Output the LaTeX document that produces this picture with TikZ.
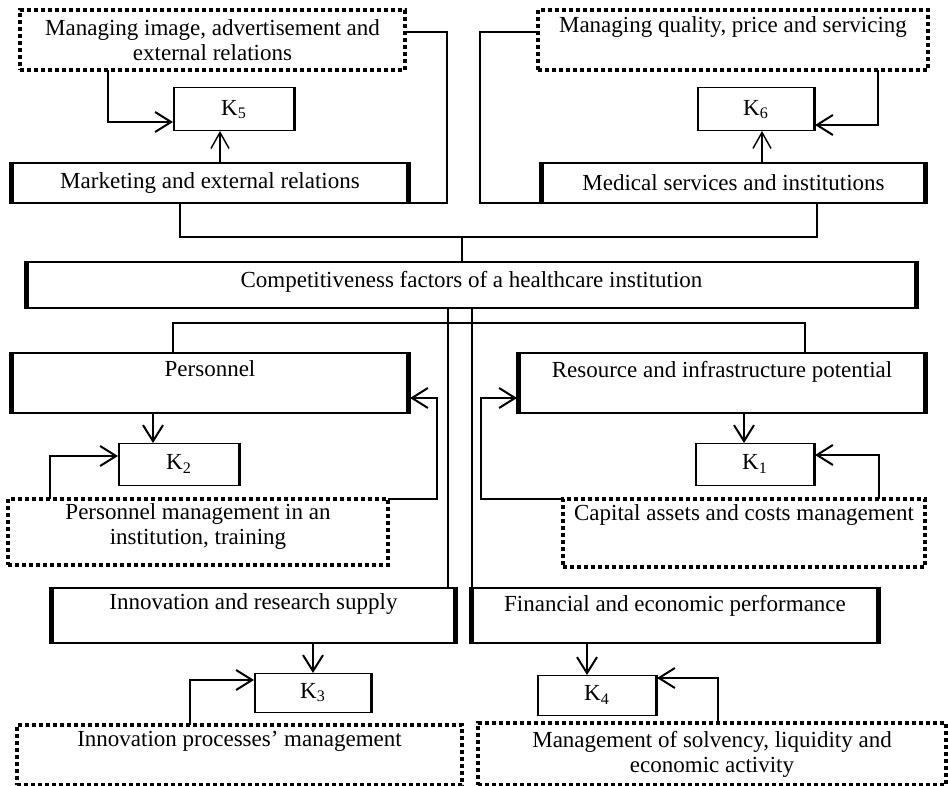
\documentclass[tikz,border=0pt]{standalone}
\usepackage{fontspec}
\setmainfont{Liberation Serif}
\usepackage{tikz}
\usetikzlibrary{arrows.meta}
\newcommand{\boxfont}{\fontsize{11.5}{12.5}\selectfont}
\tikzset{
  factor/.style={draw, line width=0.6pt, inner sep=0pt, outer sep=0pt, align=center, font=\boxfont,
    path picture={\draw[line width=4pt] (path picture bounding box.north west) -- (path picture bounding box.south west)
      (path picture bounding box.north east) -- (path picture bounding box.south east);}},
  kbox/.style={draw, line width=0.5pt, inner sep=0pt, outer sep=0pt, font=\boxfont,
    path picture={\draw[line width=2pt] (path picture bounding box.north west) -- (path picture bounding box.south west)
      (path picture bounding box.north east) -- (path picture bounding box.south east);}},
  mgmt/.style={draw, line width=1.75pt, dash pattern=on 2pt off 1.5pt, inner sep=0pt, outer sep=0pt, align=center, font=\boxfont},
  toptext/.style={text depth=#1},
  link/.style={line width=1pt},
  arr/.style={link, -{Straight Barb[length=8pt, width=10pt]}},
  arrthin/.style={line width=0.7pt, -{Straight Barb[length=8pt, width=9pt]}}
}

\begin{document}
\begin{tikzpicture}[x=0.5pt, y=-0.5pt]
  \useasboundingbox (0,0) rectangle (948,786);

  % upper factors
  \node[mgmt, minimum width=192.5pt, minimum height=30pt] (img) at (212.5,40) {Managing image, advertisement and\\external relations};
  \node[kbox, minimum width=61pt, minimum height=21.5pt] (k5) at (234,109.5) {K\textsubscript{5}};
  \node[factor, minimum width=200pt, minimum height=20pt] (mkt) at (210,183) {Marketing and external relations};

  \node[mgmt, toptext=15pt, minimum width=195pt, minimum height=30pt] (qual) at (733,40) {Managing quality, price and servicing};
  \node[kbox, minimum width=59pt, minimum height=21.5pt] (k6) at (756,109.5) {K\textsubscript{6}};
  \node[factor, minimum width=193.5pt, minimum height=20pt] (med) at (733.5,183) {Medical services and institutions};

  \node[factor, toptext=6pt, minimum width=446.5pt, minimum height=23pt] (comp) at (471.5,285) {Competitiveness factors of a healthcare institution};

  % middle factors
  \node[factor, toptext=14pt, minimum width=200pt, minimum height=30pt] (pers) at (210,383) {Personnel};
  \node[kbox, minimum width=61pt, minimum height=21pt] (k2) at (179,464) {K\textsubscript{2}};
  \node[mgmt, toptext=7.5pt, minimum width=190pt, minimum height=33pt] (persmgmt) at (198,532) {Personnel management in an\\institution, training};

  \node[factor, toptext=14pt, minimum width=205pt, minimum height=30pt] (res) at (722,383) {Resource and infrastructure potential};
  \node[kbox, minimum width=60pt, minimum height=21pt] (k1) at (755,464) {K\textsubscript{1}};
  \node[mgmt, toptext=20.5pt, minimum width=181pt, minimum height=34pt] (capital) at (744,533) {Capital assets and costs management};

  % lower factors
  \node[factor, toptext=14pt, minimum width=203.5pt, minimum height=27.5pt] (innov) at (253.5,615.5) {Innovation and research supply};
  \node[kbox, minimum width=59pt, minimum height=19.5pt] (k3) at (313,692.5) {K\textsubscript{3}};
  \node[mgmt, toptext=16pt, minimum width=222.5pt, minimum height=30pt] (innovproc) at (239.5,755) {Innovation processes’ management};

  \node[factor, toptext=12pt, minimum width=205pt, minimum height=27.5pt] (fin) at (675,615.5) {Financial and economic performance};
  \node[kbox, minimum width=60pt, minimum height=20pt] (k4) at (597,695) {K\textsubscript{4}};
  \node[mgmt, minimum width=234pt, minimum height=31pt] (solv) at (712,754) {Management of solvency, liquidity and\\economic activity};

  % bend points
  \coordinate (b5) at (108,122);
  \coordinate (u5) at (220,150);
  \coordinate (r5) at (447,32);
  \coordinate (l6) at (480,32);
  \coordinate (b6) at (878,125);
  \coordinate (u6) at (762,150);
  \coordinate (bl) at (180,237);
  \coordinate (br) at (817,237);
  \coordinate (j) at (462,237);
  \coordinate (v1) at (448,320);
  \coordinate (v2) at (472,320);
  \coordinate (hl) at (173,323);
  \coordinate (hr) at (805,323);
  \coordinate (d2) at (153,430);
  \coordinate (b2) at (50,456);
  \coordinate (r2) at (437,398);
  \coordinate (d1) at (744,430);
  \coordinate (b1) at (879,455);
  \coordinate (r1) at (481,398);
  \coordinate (b3) at (190,680);
  \coordinate (d4) at (587,660);
  \coordinate (b4) at (718,678);

  % connectors
  \draw[arr] (img.south -| b5) |- (k5.west |- b5);
  \draw[arrthin] (mkt.north -| u5) -- (k5.south -| u5);
  \draw[link] (img.east |- r5) -- (r5) |- (mkt.south east);
  \draw[link] (qual.west |- l6) -- (l6) |- (med.south west);
  \draw[arr] (qual.south -| b6) |- (k6.east |- b6);
  \draw[arrthin] (med.north -| u6) -- (k6.south -| u6);

  \draw[link] (mkt.south -| bl) -- (bl) -- (br) -- (med.south -| br);
  \draw[link] (j) -- (comp.north -| j);
  \draw[link] (comp.south -| v1) -- (innov.north -| v1);
  \draw[link] (comp.south -| v2) -- (fin.north -| v2);
  \draw[link] (pers.north -| hl) -- (hl) -- (hr) -- (res.north -| hr);

  \draw[arr] (pers.south -| d2) -- (k2.north -| d2);
  \draw[arr] (persmgmt.north -| b2) |- (k2.west |- b2);
  \draw[arr] (persmgmt.north east) -| (r2) -- (pers.east |- r2);
  \draw[arr] (res.south -| d1) -- (k1.north -| d1);
  \draw[arr] (capital.north -| b1) |- (k1.east |- b1);
  \draw[arr] (capital.north west) -| (r1) -- (res.west |- r1);

  \draw[arr] (innov.south -| k3.north) -- (k3.north);
  \draw[arr] (innovproc.north -| b3) |- (k3.west |- b3);
  \draw[arr] (fin.south -| d4) -- (k4.north -| d4);
  \draw[arr] (solv.north -| b4) |- (k4.east |- b4);
\end{tikzpicture}
\end{document}
